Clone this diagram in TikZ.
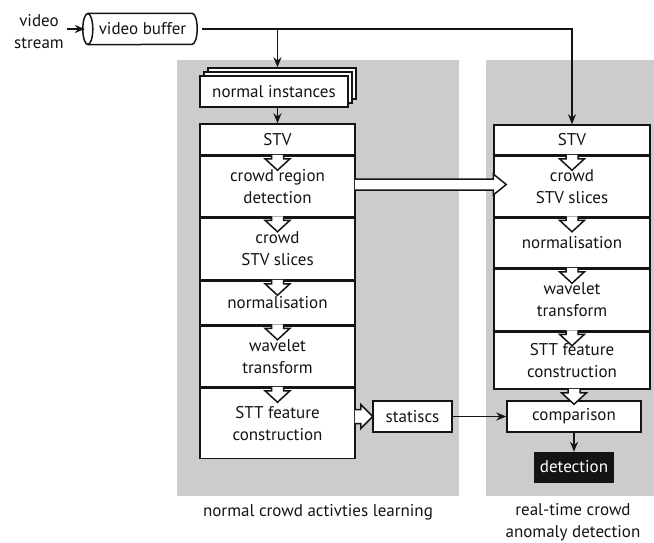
\documentclass[tikz,border=0pt]{standalone}
\usepackage{fontspec}
\setmainfont{PT Sans}
\usetikzlibrary{arrows.meta,shadows}
\definecolor{panel}{RGB}{204,204,204}
\definecolor{ink}{RGB}{20,20,20}

% hollow block arrow pointing down, placed on the border between two stacked boxes
\newcommand{\dnchev}[1]{%
  \path[hollow] (#1) ++(-6,-1) -- ++(0,4) -- ++(-6.5,0) -- ++(12.5,11.5) -- ++(12.5,-11.5) -- ++(-6.5,0) -- ++(0,-4);}

\begin{document}
\begin{tikzpicture}[x=1pt,y=-1pt,
  every node/.style={font=\fontsize{17}{22}\selectfont, text=ink},
  box/.style={draw=ink, line width=1.5pt, fill=white, align=center, inner sep=0pt, minimum width=155pt},
  rbox/.style={box, minimum width=156pt, anchor=north},
  lbox/.style={box, anchor=north},
  arr/.style={draw=ink, line width=1.4pt, -{Stealth[length=10pt,width=8pt]}},
  hollow/.style={draw=ink, line width=1.5pt, fill=white, line join=miter},
  outline/.style={draw=ink, line width=1.5pt}]

\useasboundingbox (0,0) rectangle (654,542);

% background panels
\fill[panel] (177,60) rectangle (459,496);
\fill[panel] (486,60) rectangle (654,496);

% input
\node[align=center] (vs) at (39,31.5) {video\\stream};
\node[minimum width=109pt, minimum height=31pt, inner sep=0pt] (buf) at (142.5,29) {video buffer};
\draw[outline] (buf.north west) -- ([xshift=-5pt]buf.north east)
  arc[start angle=90, end angle=-90, x radius=5pt, y radius=15.5pt] -- (buf.south west);
\draw[outline] (buf.west) ellipse[x radius=5pt, y radius=15.5pt];

% learning column
\node[box, minimum width=148pt, minimum height=31pt,
  double copy shadow={shadow xshift=4pt, shadow yshift=4pt, draw=ink, fill=white, line width=1.5pt}]
  (ni) at (274,91.5) {normal instances};
\node[box, minimum height=31pt] (lstv) at (277.5,139.5) {STV};
\node[lbox, minimum height=60pt] (lcrd) at (lstv.south) {crowd region\\detection};
\node[lbox, minimum height=62pt] (lsli) at (lcrd.south) {crowd\\STV slices};
\node[lbox, minimum height=43pt] (lnor) at (lsli.south) {normalisation};
\node[lbox, minimum height=61pt] (lwav) at (lnor.south) {wavelet\\transform};
\node[lbox, minimum height=70pt] (lstt) at (lwav.south) {STT feature\\construction};

% detection column
\node[box, minimum width=156pt, minimum height=30pt] (rstv) at (572,140) {STV};
\node[rbox, minimum height=60pt] (rsli) at (rstv.south) {crowd\\STV slices};
\node[rbox, minimum height=50pt] (rnor) at (rsli.south) {normalisation};
\node[rbox, minimum height=61pt] (rwav) at (rnor.south) {wavelet\\transform};
\node[rbox, minimum height=57pt] (rstt) at (rwav.south) {STT feature\\construction};
\node[box, minimum width=134pt, minimum height=31pt] (comp) at (574,416.5) {comparison};
\node[draw=ink, fill=black!92, text=white, minimum width=79pt, minimum height=30pt, inner sep=0pt] (det) at (574,467) {detection};
\node[box, minimum width=79pt, minimum height=31pt] (stat) at (412.5,416.5) {statiscs};

% captions
\node (lcap) at (318,512) {normal crowd activties learning};
\node[align=center] (rcap) at (573,522.5) {real-time crowd\\anomaly detection};

% connectors
\draw[arr] (vs.east |- buf) -- ([xshift=-3pt]buf.west);
\draw[arr] ([xshift=5pt]buf.east) -| (rstv.north);
\coordinate (br) at (buf.east -| lstv.north);
\coordinate (nitop) at (br |- ni.north);
\draw[arr] (br) -- ([yshift=8pt]nitop);
\draw[arr] (ni.south -| lstv.north) -- (lstv.north);
\draw[arr] (stat.east) -- (comp.west);
\draw[arr] (comp.south) -- (det.north);

% hollow step arrows
\dnchev{lstv.south}
\dnchev{lcrd.south}
\dnchev{lsli.south}
\dnchev{lnor.south}
\dnchev{lwav.south}
\dnchev{rstv.south}
\dnchev{rsli.south}
\dnchev{rnor.south}
\dnchev{rwav.south}
\dnchev{rstt.south -| comp.north}

% statistics hand-over
\coordinate (sa) at (lstt.east |- stat);
\path[hollow] (sa) ++(-1,-7) -- ++(6,0) -- ++(0,-5) -- ++(12,12) -- ++(-12,12) -- ++(0,-5) -- ++(-6,0);

% crowd regions passed to the detection column
\coordinate (wa) at ([yshift=2pt]lcrd.east);
\coordinate (wb) at (wa -| rsli.west);
\path[hollow] ([shift={(-1,-5.5)}]wa) -- ([yshift=5.5pt]wb) -- ([yshift=10.5pt]wb)
  -- ([xshift=13pt]wb) -- ([yshift=-10.5pt]wb) -- ([yshift=-5.5pt]wb) -- ([shift={(-1,5.5)}]wa);
\end{tikzpicture}
\end{document}
